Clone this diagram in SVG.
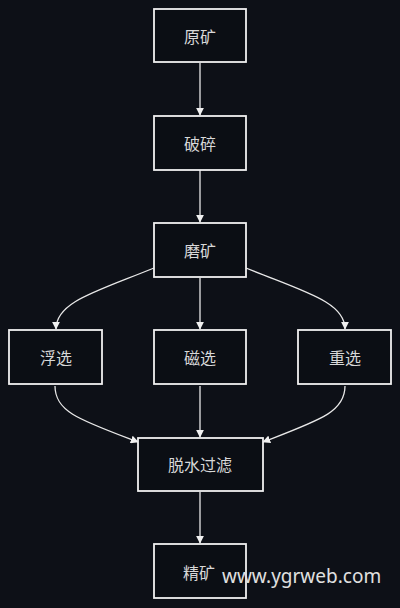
<svg xmlns="http://www.w3.org/2000/svg" width="400" height="608" viewBox="0 0 400 608">
<defs>
<style>
.box{fill:#0b0e14;stroke:#f0f0f0;stroke-width:1.8}
.lbl{font-family:"Noto Sans CJK SC","Noto Sans",sans-serif;font-size:16px;fill:#d8d8d8;text-anchor:middle;dominant-baseline:central}
.edge{fill:none;stroke:#e8e8e8;stroke-width:1.3;marker-end:url(#ah)}
.wm{font-family:"Noto Sans","DejaVu Sans",sans-serif;font-size:19px;fill:#e0e0e0}
</style>
<marker id="ah" viewBox="0 0 10 10" refX="9" refY="5" markerWidth="8" markerHeight="8" markerUnits="userSpaceOnUse" orient="auto">
<path d="M0,0 L10,5 L0,10 Z" fill="#f0f0f0"/>
</marker>
</defs>
<rect width="400" height="608" fill="#0d1017"/>
<g id="connectors">
<path class="edge" d="M200,63 L200,115"/>
<path class="edge" d="M200,170 L200,222"/>
<path class="edge" d="M200,278 L200,329"/>
<path class="edge" d="M154,268 C95,292 56,302 56,329"/>
<path class="edge" d="M246,268 C305,292 345,302 345,329"/>
<path class="edge" d="M55,386 C55,412 80,420 138,442"/>
<path class="edge" d="M200,386 L200,437"/>
<path class="edge" d="M345,386 C345,412 320,420 263,442"/>
<path class="edge" d="M200,492 L200,543"/>
</g>
<g id="n1"><rect class="box" x="154" y="9" width="92" height="53"/><text class="lbl" x="200" y="36">原矿</text></g>
<g id="n2"><rect class="box" x="154" y="116" width="92" height="54"/><text class="lbl" x="200" y="143">破碎</text></g>
<g id="n3"><rect class="box" x="154" y="223" width="92" height="54"/><text class="lbl" x="200" y="250">磨矿</text></g>
<g id="n4"><rect class="box" x="9" y="330" width="93" height="54"/><text class="lbl" x="56" y="357">浮选</text></g>
<g id="n5"><rect class="box" x="154" y="330" width="92" height="54"/><text class="lbl" x="200" y="357">磁选</text></g>
<g id="n6"><rect class="box" x="298" y="330" width="93" height="54"/><text class="lbl" x="345" y="357">重选</text></g>
<g id="n7"><rect class="box" x="138" y="438" width="125" height="53"/><text class="lbl" x="200" y="464">脱水过滤</text></g>
<g id="n8"><rect class="box" x="154" y="544" width="92" height="54"/><text class="lbl" x="199" y="572">精矿</text></g>
<text class="wm" x="222" y="583">www.ygrweb.com</text>
</svg>
